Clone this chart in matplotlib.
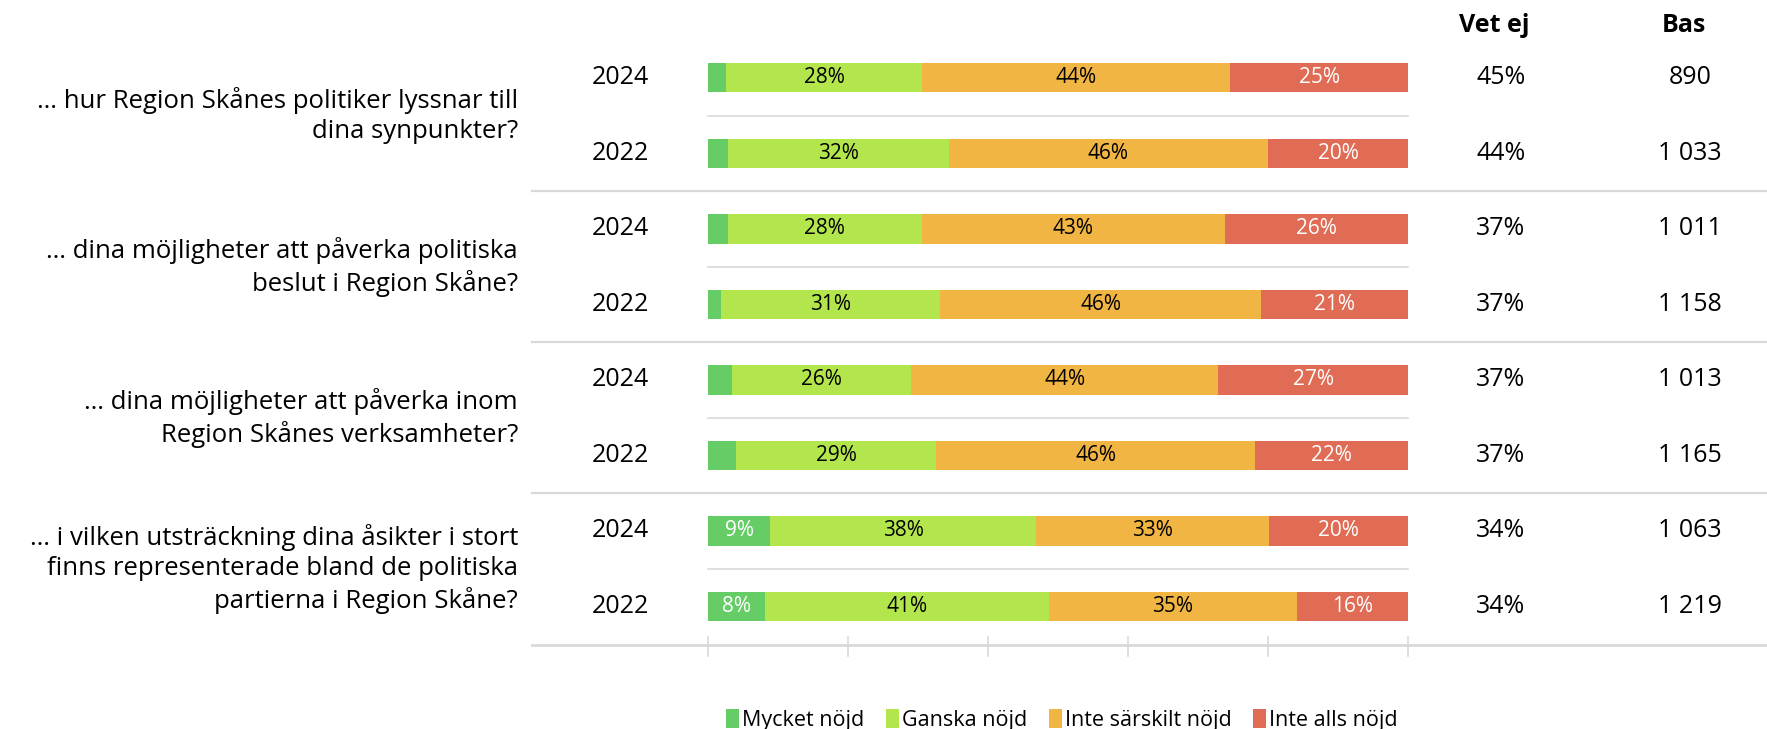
import matplotlib
matplotlib.use("Agg")
import matplotlib.pyplot as plt
from matplotlib.transforms import blended_transform_factory
from matplotlib.lines import Line2D
from matplotlib.patches import Patch

plt.rcParams['font.family'] = ['Open Sans', 'DejaVu Sans']

questions = [
    "… hur Region Skånes politiker lyssnar till\ndina synpunkter?",
    "… dina möjligheter att påverka politiska\nbeslut i Region Skåne?",
    "… dina möjligheter att påverka inom\nRegion Skånes verksamheter?",
    "… i vilken utsträckning dina åsikter i stort\nfinns representerade bland de politiska\npartierna i Region Skåne?",
]
years = ["2024", "2022", "2024", "2022", "2024", "2022", "2024", "2022"]
series_names = ["Mycket nöjd", "Ganska nöjd", "Inte särskilt nöjd", "Inte alls nöjd"]
mycket = [2.6, 2.8, 2.8, 1.9, 3.4, 4.0, 8.9, 8.1]
ganska = [28.0, 31.6, 27.7, 31.3, 25.6, 28.6, 38.0, 40.6]
inte_sarskilt = [44.0, 45.6, 43.3, 45.8, 43.9, 45.6, 33.3, 35.4]
inte_alls = [25.4, 20.0, 26.2, 21.0, 27.1, 21.8, 19.8, 15.9]
vet_ej = ["45%", "44%", "37%", "37%", "37%", "37%", "34%", "34%"]
bas = ["890", "1 033", "1 011", "1 158", "1 013", "1 165", "1 063", "1 219"]

colors = ["#66CC66", "#B3E64D", "#F0B542", "#E06C55"]
label_colors = ["white", "black", "black", "white"]

W, H = 1767, 729
fig = plt.figure(figsize=(W / 100, H / 100), dpi=100)
ax = fig.add_axes([708 / W, 1 - 645 / H, 700 / W, 605 / H])
ax.set_xlim(0, 100)
ax.set_ylim(7.51, -0.5)
ax.axis('off')

series = [mycket, ganska, inte_sarskilt, inte_alls]
n = len(years)
lefts = [0.0] * n
for s, vals in enumerate(series):
    ax.barh(range(n), vals, left=lefts, height=0.39, color=colors[s],
            edgecolor='none', label=series_names[s])
    for i, v in enumerate(vals):
        if v >= 5:
            ax.text(lefts[i] + v / 2, i, f"{round(v)}%", ha='center', va='center',
                    fontsize=15, color=label_colors[s])
    lefts = [l + v for l, v in zip(lefts, vals)]

gray = "#D9D9D9"
# within-pair separators (bar area only)
for g in range(4):
    ax.plot([0, 100], [2 * g + 0.5] * 2, color=gray, lw=1.2, clip_on=False)

tr = blended_transform_factory(fig.transFigure, ax.transData)
# group separators
for g in range(3):
    fig.add_artist(Line2D([532 / W, 1.0], [2 * g + 1.5] * 2, transform=tr,
                          color=gray, lw=1.6))
# axis line
fig.add_artist(Line2D([532 / W, 1.0], [7.51] * 2, transform=tr, color=gray, lw=2.0))
for t in range(0, 101, 20):
    ax.plot([t, t], [7.41, 7.66], color=gray, lw=1.2, clip_on=False)

fs = 18
# year labels, vet ej, bas
for i in range(n):
    ax.text(620 / W, i, years[i], transform=tr, ha='center', va='center', fontsize=fs)
    ax.text(1501 / W, i, vet_ej[i], transform=tr, ha='center', va='center', fontsize=fs)
    ax.text(1690 / W, i, bas[i], transform=tr, ha='center', va='center', fontsize=fs)

for g, q in enumerate(questions):
    ax.text(518 / W, 2 * g + 0.5, q, transform=tr, ha='right', va='center',
            fontsize=18.5, linespacing=1.28)

fig.text(1494 / W, 1 - 25 / H, "Vet ej", ha='center', va='center', fontsize=fs,
         fontweight='bold')
fig.text(1684 / W, 1 - 25 / H, "Bas", ha='center', va='center', fontsize=fs,
         fontweight='bold')

handles = [Patch(facecolor=c, edgecolor='none') for c in colors]
fig.legend(handles, series_names, loc='center', bbox_to_anchor=(1062 / W, 9 / H),
           ncol=4, frameon=False, fontsize=15.5, handlelength=0.6, handleheight=1.0,
           handletextpad=0.15, columnspacing=1.0, borderpad=0)

fig.savefig("out.png", dpi=100)
